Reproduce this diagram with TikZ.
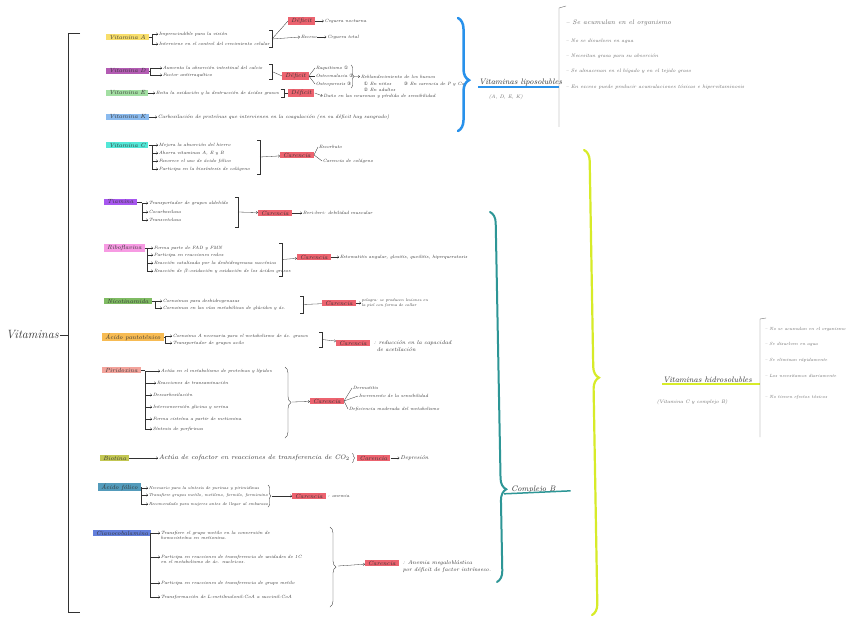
\documentclass[tikz,border=0pt]{standalone}
\usepackage{fontspec}
\newfontfamily\numfont{DejaVu Sans}
\usepackage{tikz}
\usetikzlibrary{arrows.meta,positioning,calc,decorations.pathreplacing}
\definecolor{InkGray}{RGB}{50,50,50}
\definecolor{SoftInk}{RGB}{105,105,105}
\definecolor{HlYellow}{RGB}{247,214,70}
\definecolor{HlMagenta}{RGB}{160,50,160}
\definecolor{HlGreen}{RGB}{140,215,140}
\definecolor{HlSky}{RGB}{110,170,235}
\definecolor{HlCyan}{RGB}{40,225,205}
\definecolor{HlViolet}{RGB}{145,45,235}
\definecolor{HlPink}{RGB}{245,130,220}
\definecolor{HlLeaf}{RGB}{95,170,60}
\definecolor{HlOrange}{RGB}{245,170,40}
\definecolor{HlSalmon}{RGB}{240,140,130}
\definecolor{HlOlive}{RGB}{180,185,40}
\definecolor{HlTeal}{RGB}{40,130,170}
\definecolor{HlBlue}{RGB}{60,95,210}
\definecolor{DeficitRed}{RGB}{232,60,75}
\definecolor{LipoBlue}{RGB}{40,145,235}
\definecolor{BTeal}{RGB}{45,150,150}
\definecolor{HidroLime}{RGB}{215,235,40}
\newcommand{\circnum}[1]{{\numfont#1}}

\begin{document}
\begin{tikzpicture}[x=1pt,y=-1pt,
    txt/.style={font=\fontsize{4.6}{5.6}\selectfont\itshape,text=InkGray,
      inner sep=.6pt,anchor=west,align=left},
    vit/.style={txt,font=\fontsize{6}{7}\selectfont\itshape,fill=#1,
      fill opacity=.8,text opacity=1,inner xsep=3pt,inner ysep=1pt},
    bad/.style={vit=DeficitRed},
    note/.style={txt,font=\fontsize{5}{6}\selectfont\itshape,text=SoftInk},
    head/.style={font=\fontsize{8}{9}\selectfont\itshape,text=InkGray,
      anchor=west,inner sep=1pt},
    flow/.style={-{Straight Barb[length=1.6pt,width=2.6pt]},line width=.3pt,draw=InkGray},
    link/.style={line width=.3pt,draw=InkGray},
    hook/.style={line width=.35pt,draw=InkGray},
    curly/.style={decorate,decoration={brace,amplitude=#1},line width=.35pt,draw=InkGray},
    bigcurly/.style={decorate,decoration={brace,amplitude=11pt,aspect=#1},line cap=round}
  ]
  \fill[white] (0,0) rectangle (848,623);
  \useasboundingbox (0,0) rectangle (848,623);

  % raiz
  \node[head,font=\fontsize{12}{13}\selectfont\itshape] (root) at (5,335) {Vitaminas};
  \coordinate (rootbar) at (68,335);
  \draw[link] (root) -- (rootbar);
  \draw[hook] (80,33) -- (68,33) -- (68,612) -- (80,612);

  % vitamina A
  \node[vit=HlYellow] (vA) at (106,37) {Vitamina A};
  \node[txt] (a1) at (158,34) {Imprescindible para la visión};
  \node[txt] (a2) at (158,44) {Interviene en el control del crecimiento celular};
  \coordinate (aL) at (152,0);
  \coordinate (aR) at (272,0);
  \draw[link] (vA.east) -- (vA.east -| aL);
  \draw[link] (a1.west -| aL) -- (a2.west -| aL);
  \foreach \n in {a1,a2} \draw[flow] (\n.west -| aL) -- (\n.west);
  \draw[hook] ($(aR |- a1.north)+(-3,-1)$) -- ($(aR |- a1.north)+(0,-1)$)
    -- ($(aR |- a2.south)+(0,1)$) -- ++(-3,0);
  \coordinate (aM) at ($(aR |- a1.west)!.5!(aR |- a2.west)$);
  \node[bad] (aD) at (288,21) {Déficit};
  \node[txt,right=9pt of aD] (aD1) {Ceguera nocturna};
  \node[txt] (aE) at (300,37) {Exceso};
  \node[txt,right=9pt of aE] (aE1) {Ceguera total};
  \draw[link] (aM) -- (aD.west);
  \draw[flow] (aM) -- (aE.west);
  \draw[flow] (aD) -- (aD1);
  \draw[flow] (aE) -- (aE1);

  % vitamina D
  \node[vit=HlMagenta] (vD) at (106,71) {Vitamina D};
  \node[txt] (d1) at (162,68) {Aumenta la absorción intestinal del calcio};
  \node[txt] (d2) at (162,75) {Factor antirraquítico};
  \coordinate (dL) at (150,0);
  \coordinate (dR) at (272,0);
  \draw[link] (vD.east) -- (vD.east -| dL);
  \draw[link] (d1.west -| dL) -- (d2.west -| dL);
  \foreach \n in {d1,d2} \draw[flow] (\n.west -| dL) -- (\n.west);
  \draw[hook] ($(dR |- d1.north)+(-3,-1)$) -- ($(dR |- d1.north)+(0,-1)$)
    -- ($(dR |- d2.south)+(0,1)$) -- ++(-3,0);
  \coordinate (dM) at ($(dR |- d1.west)!.5!(dR |- d2.west)$);
  \node[bad] (dD) at (282,76) {Déficit};
  \draw[link] (dM) -- (dD.west);
  \node[txt] (d3) at (315,68) {Raquitismo \circnum{①}};
  \node[txt] (d4) at (315,76) {Osteomalacia \circnum{②}};
  \node[txt] (d5) at (315,84) {Osteoporosis \circnum{③}};
  \foreach \n in {d3,d4,d5} \draw[link] (dD.east) -- (\n.west);
  \draw[curly=3pt] (351,65) -- (351,88);
  \coordinate (dT) at (354,76.5);
  \node[txt] (d6) at (360,77) {Reblandecimiento de los huesos};
  \draw[flow] (dT) -- (d6);
  \node[txt] (d7) at (363,84) {\circnum{①} En niños};
  \node[txt] (d8) at (363,90) {\circnum{②} En adultos};
  \node[txt] (d9) at (403,84) {\circnum{③} En carencia de P y Ca};

  % vitamina E
  \node[vit=HlGreen] (vE) at (106,93) {Vitamina E};
  \node[txt] (e1) at (155,93) {Evita la oxidación y la destrucción de ácidos grasos};
  \draw[flow] (vE) -- (e1);
  \draw[hook] ($(e1.north east)+(1,-1)$) -- ++(3,0) -- ($(e1.south east)+(4,1)$) -- ++(-3,0);
  \node[bad,right=8pt of e1] (eD) {Déficit};
  \draw[link] ($(e1.east)+(4,0)$) -- (eD);
  \node[txt,right=8pt of eD,yshift=-3pt] (eD1) {Daño en las neuronas y pérdida de sensibilidad};
  \draw[flow] (eD.east) -- (eD1.west);

  % vitamina K
  \node[vit=HlSky] (vK) at (106,117) {Vitamina K};
  \node[txt,font=\fontsize{5}{6}\selectfont\itshape,right=8pt of vK] (k1)
    {Carboxilación de proteínas que intervienen en la coagulación (en su déficit hay sangrado)};
  \draw[flow] (vK) -- (k1);

  % vitamina C
  \node[vit=HlCyan] (vC) at (106,145) {Vitamina C};
  \node[txt] (c1) at (158,145) {Mejora la absorción del hierro};
  \node[txt] (c2) at (158,153) {Ahorra vitaminas A, E y B};
  \node[txt] (c3) at (158,161) {Favorece el uso de ácido fólico};
  \node[txt] (c4) at (158,169) {Participa en la biosíntesis de colágeno};
  \coordinate (cL) at (152,0);
  \coordinate (cR) at (260,0);
  \draw[link] (vC.east) -- (vC.east -| cL);
  \draw[link] (c1.west -| cL) -- (c4.west -| cL);
  \foreach \n in {c1,c2,c3,c4} \draw[flow] (\n.west -| cL) -- (\n.west);
  \draw[hook] ($(cR |- c1.north)+(-3,-2)$) -- ($(cR |- c1.north)+(0,-2)$)
    -- ($(cR |- c4.south)+(0,2)$) -- ++(-3,0);
  \coordinate (cM) at ($(cR |- c1.west)!.5!(cR |- c4.west)$);
  \node[bad] (cD) at (280,155) {Carencia};
  \draw[flow] (cM) -- (cD);
  \node[txt] (c5) at (318,147) {Escorbuto};
  \node[txt] (c6) at (322,161) {Carencia de colágeno};
  \draw[link] (cD.east) -- (c5.west);
  \draw[link] (cD.east) -- (c6.west);

  % tiamina
  \node[vit=HlViolet] (vB1) at (104,202) {Tiamina};
  \node[txt] (t1) at (148,203) {Transportador de grupos aldehído};
  \node[txt] (t2) at (148,212) {Cocarboxilasa};
  \node[txt] (t3) at (148,220) {Transcetolasa};
  \coordinate (tL) at (142,0);
  \coordinate (tR) at (238,0);
  \draw[link] (vB1.east) -- (vB1.east -| tL);
  \draw[link] (t1.west -| tL) -- (t3.west -| tL);
  \foreach \n in {t1,t2,t3} \draw[flow] (\n.west -| tL) -- (\n.west);
  \draw[hook] ($(tR |- t1.north)+(-3,-3)$) -- ($(tR |- t1.north)+(0,-3)$)
    -- ($(tR |- t3.south)+(0,5)$) -- ++(-3,0);
  \coordinate (tM) at (tR |- t2.west);
  \node[bad] (tD) at (258,213) {Carencia};
  \draw[flow] (tM) -- (tD);
  \node[txt,right=10pt of tD] (t4) {Beri-beri: debilidad muscular};
  \draw[flow] (tD) -- (t4);

  % riboflavina
  \node[vit=HlPink] (vB2) at (104,248) {Riboflavina};
  \node[txt] (r1) at (153,248) {Forma parte de FAD y FMN};
  \node[txt] (r2) at (153,255) {Participa en reacciones redox};
  \node[txt] (r3) at (153,263) {Reacción catalizada por la deshidrogenasa succínica};
  \node[txt] (r4) at (153,271) {Reacción de $\beta$-oxidación y oxidación de los ácidos grasos};
  \coordinate (rL) at (147,0);
  \coordinate (rR) at (282,0);
  \draw[link] (vB2.east) -- (vB2.east -| rL);
  \draw[link] (r1.west -| rL) -- (r4.west -| rL);
  \foreach \n in {r1,r2,r3,r4} \draw[flow] (\n.west -| rL) -- (\n.west);
  \draw[hook] ($(rR |- r1.north)+(-3,-2)$) -- ($(rR |- r1.north)+(0,-2)$)
    -- ($(rR |- r4.south)+(0,2)$) -- ++(-3,0);
  \coordinate (rM) at ($(rR |- r1.west)!.5!(rR |- r4.west)$);
  \node[bad] (rD) at (297,257) {Carencia};
  \draw[flow] (rM) -- (rD);
  \node[txt,right=8pt of rD] (r5) {Estomatitis angular, glositis, queilitis, hiperqueratosis};
  \draw[flow] (rD) -- (r5);

  % nicotinamida
  \node[vit=HlLeaf] (vB3) at (104,301) {Nicotinamida};
  \node[txt] (n1) at (162,301) {Coenzimas para deshidrogenasas};
  \node[txt] (n2) at (162,308) {Coenzimas en las vías metabólicas de glúcidos y ác.};
  \coordinate (nL) at (155,0);
  \coordinate (nR) at (303,0);
  \draw[link] (vB3.east) -- (vB3.east -| nL);
  \draw[link] (n1.west -| nL) -- (n2.west -| nL);
  \foreach \n in {n1,n2} \draw[flow] (\n.west -| nL) -- (\n.west);
  \draw[hook] ($(nR |- n1.north)+(-3,-2)$) -- ($(nR |- n1.north)+(0,-2)$)
    -- ($(nR |- n2.south)+(0,2)$) -- ++(-3,0);
  \coordinate (nM) at ($(nR |- n1.west)!.5!(nR |- n2.west)$);
  \node[bad] (nD) at (322,303) {Carencia};
  \draw[link] (nM) -- (nD);
  \node[txt,font=\fontsize{4}{4.6}\selectfont\itshape,right=5pt of nD] (n3)
    {pelagra: se producen lesiones en\\la piel con forma de collar};
  \draw[flow] (nD) -- (n3);

  % acido pantotenico
  \node[vit=HlOrange] (vB5) at (102,337) {Ácido pantoténico};
  \node[txt] (h1) at (172,336) {Coenzima A necesaria para el metabolismo de ác. grasos};
  \node[txt] (h2) at (172,343) {Transportador de grupos acilo};
  \coordinate (hL) at (165,0);
  \coordinate (hR) at (322,0);
  \draw[link] (vB5.east) -- (vB5.east -| hL);
  \draw[link] (h1.west -| hL) -- (h2.west -| hL);
  \foreach \n in {h1,h2} \draw[flow] (\n.west -| hL) -- (\n.west);
  \draw[hook] ($(hR |- h1.north)+(-3,-1)$) -- ($(hR |- h1.north)+(0,-1)$)
    -- ($(hR |- h2.south)+(0,1)$) -- ++(-3,0);
  \coordinate (hM) at ($(hR |- h1.west)!.5!(hR |- h2.west)$);
  \node[bad] (hD) at (336,343) {Carencia};
  \draw[flow] (hM) -- (hD);
  \node[txt,font=\fontsize{5.5}{7}\selectfont\itshape,anchor=north west] (h3)
    at ($(hD.north east)+(3,0)$) {: reducción en la capacidad\\\hspace*{3pt}de acetilación};

  % piridoxina
  \node[vit=HlSalmon] (vB6) at (102,370) {Piridoxina};
  \node[txt] (p1) at (160,371) {Actúa en el metabolismo de proteínas y lípidos};
  \node[txt] (p2) at (156,383) {Reacciones de transaminación};
  \node[txt] (p3) at (152,395) {Descarboxilación};
  \node[txt] (p4) at (152,407) {Interconversión glicina y serina};
  \node[txt] (p5) at (152,419) {Forma cisteína a partir de metionina};
  \node[txt] (p6) at (152,429) {Síntesis de porfirinas};
  \coordinate (pL) at (145,0);
  \draw[link] (vB6.east) -- (vB6.east -| pL);
  \draw[link] (p1.west -| pL) -- (p6.west -| pL);
  \foreach \n in {p1,p2,p3,p4,p5,p6} \draw[flow] (\n.west -| pL) -- (\n.west);
  \draw[curly=6pt] (285,367) -- (285,438);
  \coordinate (pT) at (292,402);
  \node[bad] (pD) at (310,401) {Carencia};
  \draw[flow] (pT) -- (pD);
  \node[txt] (p7) at (352,388) {Dermatitis};
  \node[txt] (p8) at (358,396) {Incremento de la sensibilidad};
  \node[txt] (p9) at (348,409) {Deficiencia moderada del metabolismo};
  \foreach \n in {p7,p8,p9} \draw[link] (pD.east) -- (\n.west);

  % biotina
  \node[vit=HlOlive] (vB7) at (100,458) {Biotina};
  \node[txt,font=\fontsize{6.5}{7.5}\selectfont\itshape] (b1) at (158,458)
    {Actúa de cofactor en reacciones de transferencia de CO$_2$};
  \draw[flow] (vB7) -- (b1);
  \draw[curly=2pt] ($(b1.north east)+(2,-1)$) -- ($(b1.south east)+(2,1)$);
  \node[bad,right=6pt of b1] (bD) {Carencia};
  \node[txt,font=\fontsize{5.5}{6.5}\selectfont\itshape,right=9pt of bD] (b2) {Depresión};
  \draw[flow] (bD) -- (b2);

  % acido folico
  \node[vit=HlTeal] (vB9) at (98,487) {Ácido fólico};
  \node[txt,font=\fontsize{4.2}{5}\selectfont\itshape] (f1) at (148,488) {Necesario para la síntesis de purinas y pirimidinas};
  \node[txt,font=\fontsize{4.2}{5}\selectfont\itshape] (f2) at (148,495) {Transfiere grupos metilo, metileno, formilo, formimino};
  \node[txt,font=\fontsize{4.2}{5}\selectfont\itshape] (f3) at (148,504) {Recomendado para mujeres antes de llegar al embarazo};
  \coordinate (fL) at (141,0);
  \draw[link] (vB9.east) -- (vB9.east -| fL);
  \draw[link] (f1.west -| fL) -- (f3.west -| fL);
  \foreach \n in {f1,f2,f3} \draw[flow] (\n.west -| fL) -- (\n.west);
  \draw[curly=3pt] (268,485) -- (268,507);
  \coordinate (fT) at (272,496);
  \node[bad] (fD) at (292,496) {Carencia};
  \draw[flow] (fT) -- (fD);
  \node[txt,right=1pt of fD] (f4) {: anemia};

  % cianocobalamina
  \node[vit=HlBlue] (vB12) at (93,533) {Cianocobalamina};
  \node[txt,anchor=north west] (m1) at (160,530)
    {Transfiere el grupo metilo en la conversión de\\homocisteína en metionina.};
  \node[txt,anchor=north west] (m2) at (160,554)
    {Participa en reacciones de transferencia de unidades de 1C\\en el metabolismo de ác. nucleicos.};
  \node[txt,anchor=north west] (m3) at (160,580)
    {Participa en reacciones de transferencia de grupo metilo};
  \node[txt,anchor=north west] (m4) at (160,594)
    {Transformación de L-metilmalonil-CoA a succinil-CoA};
  \draw[link] (vB12.east) -- ($(m1.north west)+(-10,3)$);
  \draw[link] ($(m1.north west)+(-10,3)$) -- ($(m4.north west)+(-10,3)$);
  \foreach \n in {m1,m2,m3,m4} \draw[flow] ($(\n.north west)+(-10,3)$) -- ++(10,0);
  \draw[curly=6pt] (330,527) -- (330,607);
  \coordinate (mT) at (338,566);
  \node[bad] (mD) at (365,563) {Carencia};
  \draw[flow] (mT) -- (mD);
  \node[txt,font=\fontsize{5.5}{7}\selectfont\itshape,anchor=north west] (m5)
    at ($(mD.north east)+(3,0)$) {: Anemia megaloblástica\\por déficit de factor intrínseco.};

  % vitaminas liposolubles
  \draw[bigcurly=.55,LipoBlue,line width=2.5pt] (458,18) -- (458,131);
  \coordinate (lipoBar) at (559,0);
  \node[head] (lipo) at (478,82) {Vitaminas liposolubles};
  \draw[LipoBlue,line width=1.8pt] (lipo.south west) -- (lipo.south -| lipoBar);
  \node[note] (lipoSub) at (488,97) {(A, D, E, K)};
  \draw[hook,SoftInk] (566,6) -- (lipoBar |- 0,8) -- (lipoBar |- 0,127);
  \node[note,font=\fontsize{6.5}{7.5}\selectfont\itshape] (l1) at (565,23) {– Se acumulan en el organismo};
  \node[note] (l2) at (565,41) {– No se disuelven en agua};
  \node[note] (l3) at (565,56) {– Necesitan grasa para su absorción};
  \node[note] (l4) at (565,71) {– Se almacenan en el hígado y en el tejido graso};
  \node[note] (l5) at (565,87) {– En exceso puede producir acumulaciones tóxicas e hipervitaminosis};

  % complejo B
  \draw[bigcurly=.75,BTeal,line width=2pt] (490,212) -- (497,582);
  \node[head] (cplxB) at (510,489) {Complejo B};
  \draw[BTeal,line width=1.5pt] ($(cplxB.south west)+(-6,0)$) -- ($(cplxB.south east)+(14,-3)$);

  % vitaminas hidrosolubles
  \draw[bigcurly=.49,HidroLime,line width=2.2pt] (584,150) -- (592,615);
  \coordinate (hidroBar) at (760,0);
  \node[head] (hidro) at (662,380) {Vitaminas hidrosolubles};
  \draw[HidroLime,line width=2pt] (hidro.south west) -- (hidro.south -| hidroBar);
  \node[note] (hidroSub) at (656,402) {(Vitamina C y complejo B)};
  \draw[hook,SoftInk] (766,318) -- (hidroBar |- 0,319) -- (hidroBar |- 0,437);
  \node[note,font=\fontsize{4.5}{5}\selectfont\itshape] (w1) at (764,329) {– No se acumulan en el organismo};
  \node[note,font=\fontsize{4.5}{5}\selectfont\itshape] (w2) at (764,344) {– Se disuelven en agua};
  \node[note,font=\fontsize{4.5}{5}\selectfont\itshape] (w3) at (764,360) {– Se eliminan rápidamente};
  \node[note,font=\fontsize{4.5}{5}\selectfont\itshape] (w4) at (764,376) {– Los necesitamos diariamente};
  \node[note,font=\fontsize{4.5}{5}\selectfont\itshape] (w5) at (764,397) {– No tienen efectos tóxicos};
\end{tikzpicture}
\end{document}
